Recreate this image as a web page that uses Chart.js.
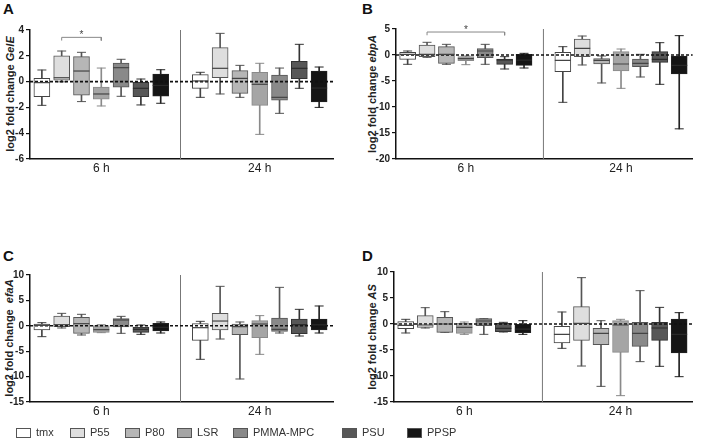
<!DOCTYPE html>
<html>
<head>
<meta charset="utf-8">
<script src="https://cdn.jsdelivr.net/npm/chart.js@4.4.0/dist/chart.umd.min.js"></script>
<style>
  body { margin: 0; background: #fff; width: 702px; height: 448px; position: relative; overflow: hidden;
         font-family: "Liberation Sans", Arial, sans-serif; }
  canvas { position: absolute; }
  .letter { position: absolute; font-weight: bold; font-size: 15px; line-height: 1; color: #111; }
  .ytitle { position: absolute; font-weight: bold; font-size: 11px; line-height: 1; color: #222; white-space: pre;
            transform: translate(-50%, -50%) rotate(-90deg); }
  .leg { position: absolute; top: 427px; font-size: 11px; color: #333; display: flex; align-items: center; line-height: 1; }
  .leg .sw { display: inline-block; width: 15px; height: 10px; border: 1px solid #555; box-sizing: border-box; margin-right: 5px; }
</style>
</head>
<body>
<div class="letter" style="left:3px;top:1px">A</div>
<div class="letter" style="left:362px;top:1px">B</div>
<div class="letter" style="left:3px;top:248px">C</div>
<div class="letter" style="left:362px;top:248px">D</div>

<div class="ytitle" style="left:10px;top:94px">log2 fold change <i>GelE</i></div>
<div class="ytitle" style="left:372px;top:94px">log2 fold change <i>ebpA</i></div>
<div class="ytitle" style="left:9px;top:338px">log2 fold change  <i>efaA</i></div>
<div class="ytitle" style="left:372px;top:337px">log2 fold change <i>AS</i></div>

<canvas id="chartA" width="345" height="169" style="left:0px;top:20px"></canvas>
<canvas id="chartB" width="336" height="170" style="left:366px;top:19px"></canvas>
<canvas id="chartC" width="345" height="167" style="left:0px;top:265px"></canvas>
<canvas id="chartD" width="338" height="170" style="left:364px;top:262px"></canvas>

<div id="legend"></div>

<script>
// groups and labels
const materials = ['tmx', 'P55', 'P80', 'LSR', 'PMMA-MPC', 'PSU', 'PPSP'];
const timeLabels = ['6 h', '24 h'];

// box plot values, 6 h (7 materials) then 24 h (7 materials)
// A - GelE
const gelE_max = [0.9, 2.37, 2.27, 1.05, 1.73, 0.2, 0.92, 0.72, 3.74, 1.26, 1.42, 1.05, 2.89, 1.13];
const gelE_q3  = [0.25, 2.0, 1.93, -0.42, 1.44, 0.0, 0.59, 0.54, 2.63, 0.85, 0.72, 0.51, 1.57, 0.82];
const gelE_med = [-0.08, 0.3, 0.82, -0.96, 1.08, -0.52, -0.3, 0.05, 1.03, 0.25, -0.21, -1.22, 1.03, -0.5];
const gelE_q1  = [-1.17, 0.12, -1.06, -1.37, -0.44, -1.17, -1.12, -0.52, 0.3, -0.91, -1.84, -1.43, 0.23, -1.58];
const gelE_min = [-1.84, -0.02, -1.55, -1.89, -1.14, -1.81, -1.68, -1.22, -0.96, -1.22, -4.09, -2.46, -0.52, -2.0];

// B - ebpA
const ebpA_max = [0.77, 2.44, 2.05, -0.19, 2.05, -0.32, 0.32, 1.6, 3.65, -0.19, 1.15, 0.13, 2.37, 3.72];
const ebpA_q3  = [0.51, 1.92, 1.6, -0.32, 1.22, -0.77, 0.13, 0.51, 3.08, -0.7, 0.64, -0.77, 0.64, -0.19];
const ebpA_med = [0.13, 0.13, 0.13, -0.7, 0.77, -0.96, -1.0, -1.03, 1.28, -1.03, -1.73, -1.6, -0.83, -2.0];
const ebpA_q1  = [-0.83, -0.32, -1.6, -1.09, -0.51, -1.79, -1.99, -3.2, -0.32, -1.73, -3.08, -2.24, -1.41, -3.65];
const ebpA_min = [-1.79, -0.45, -1.79, -1.86, -1.79, -2.69, -2.5, -9.1, -1.92, -5.38, -6.41, -4.23, -5.64, -14.2];

// C - efaA
const efaA_max = [0.62, 2.45, 2.26, 0.22, 1.86, 0.16, 0.75, 0.88, 7.77, 0.75, 2.0, 7.57, 3.24, 3.9];
const efaA_q3  = [0.35, 1.93, 1.67, 0.03, 1.4, -0.24, 0.49, 0.42, 2.45, 0.35, 1.01, 1.54, 1.34, 1.34];
const efaA_med = [0.09, 0.22, 0.42, -0.76, 1.14, -0.7, -0.3, -0.37, 0.94, -0.17, 0.35, -0.7, 0.22, 0.2];
const efaA_q1  = [-0.83, -0.17, -1.48, -1.29, -0.24, -1.29, -1.02, -2.86, -0.83, -1.75, -2.34, -1.09, -1.55, -0.83];
const efaA_min = [-2.14, -0.43, -1.81, -1.35, -1.48, -1.68, -1.42, -6.6, -2.6, -10.47, -5.62, -1.42, -2.01, -1.42];

// D - AS
const as_max = [0.9, 3.14, 2.37, 0.38, 1.03, 0.32, 0.64, 2.31, 8.91, 0.64, 0.9, 6.41, 3.2, 2.18];
const as_q3  = [0.45, 1.6, 1.28, 0.13, 1.03, 0.13, -0.06, -0.45, 3.33, -0.83, 0.64, 0.32, 0.32, 0.96];
const as_med = [-0.26, -0.19, 0, -0.64, 0.58, -0.83, -1.0, -1.99, 0.13, -1.8, -0.19, -1.8, -0.77, -2.0];
const as_q1  = [-0.9, -0.64, -1.6, -1.8, -0.32, -1.47, -1.67, -3.65, -3.14, -3.97, -5.45, -4.3, -3.14, -5.58];
const as_min = [-1.73, -0.77, -1.6, -1.99, -1.99, -1.53, -1.99, -4.68, -8.08, -11.99, -13.78, -7.24, -8.14, -10.13];

// significance brackets: [from box, to box, height]
const sigA = [1, 3, 3.43];
const sigB = [1, 5, 4.42];

const fillColors = ['#ffffff', '#dedede', '#b6b6b6', '#a5a5a5', '#898989', '#575757', '#151515'];
const lineColors = ['#444444', '#555555', '#555555', '#8a8a8a', '#555555', '#333333', '#222222'];

// box positions: one slot per material, one empty slot between time points
const boxX = [];
timeLabels.forEach((t, ti) => materials.forEach((m, mi) => boxX.push(ti * (materials.length + 1) + mi)));
const groupCenters = timeLabels.map((t, ti) => {
    const xs = boxX.slice(ti * materials.length, (ti + 1) * materials.length);
    return xs.reduce((a, b) => a + b, 0) / xs.length;
});
const dividerX = materials.length;
const xMin = -0.6, xMax = 14.7;

const font = '"Liberation Sans", Arial, sans-serif';

function makePanel(id, b, yMin, yMax, step, sig, padRight) {
    const colFill = boxX.map((x, i) => fillColors[i % 7]);
    const colLine = boxX.map((x, i) => lineColors[i % 7]);
    const capData = [], capColors = [];
    boxX.forEach((x, i) => {
        capData.push({x: x, y: b.max[i]}, {x: x, y: b.min[i]});
        capColors.push(colLine[i], colLine[i]);
    });

    const datasets = [
        {
            type: 'bar',
            data: boxX.map((x, i) => ({x: x, y: [b.q1[i], b.q3[i]]})),
            backgroundColor: colFill,
            borderColor: colLine,
            borderWidth: 1,
            borderSkipped: false,
            barThickness: 16,
            grouped: false,
            order: 2
        },
        {
            type: 'bar',
            data: boxX.map((x, i) => ({x: x, y: [b.min[i], b.max[i]]})),
            backgroundColor: colLine,
            borderWidth: 0,
            barThickness: 1,
            grouped: false,
            order: 3
        },
        {
            type: 'line',
            data: capData,
            showLine: false,
            pointStyle: 'line',
            pointRadius: 4.5,
            pointBorderWidth: 1,
            pointBorderColor: capColors,
            order: 3
        },
        {
            type: 'line',
            data: boxX.map((x, i) => ({x: x, y: b.med[i]})),
            showLine: false,
            pointStyle: 'line',
            pointRadius: 8,
            pointBorderWidth: 1.2,
            pointBorderColor: boxX.map((x, i) => i % 7 >= 5 ? '#2a2a2a' : '#444444'),
            order: 0
        },
        {
            type: 'line',
            data: [{x: xMin, y: 0}, {x: xMax, y: 0}],
            borderColor: '#111',
            borderWidth: 1.6,
            borderDash: [3, 2],
            pointRadius: 0,
            order: 0
        },
        {
            type: 'line',
            data: [{x: dividerX, y: yMin}, {x: dividerX, y: yMax}],
            borderColor: '#777',
            borderWidth: 1,
            pointRadius: 0,
            order: 4
        }
    ];

    if (sig) {
        const drop = (yMax - yMin) * 0.025;
        datasets.push({
            type: 'line',
            data: [{x: sig[0], y: sig[2] - drop}, {x: sig[0], y: sig[2]}, {x: sig[1], y: sig[2]}, {x: sig[1], y: sig[2] - drop}],
            borderColor: '#888',
            borderWidth: 1,
            pointRadius: 0,
            order: 0
        });
    }

    const starPlugin = {
        id: 'star',
        afterDatasetsDraw(chart) {
            if (!sig) return;
            const c = chart.ctx;
            c.save();
            c.fillStyle = '#444';
            c.font = '10px ' + font;
            c.textAlign = 'center';
            c.textBaseline = 'bottom';
            c.fillText('*', chart.scales.x.getPixelForValue((sig[0] + sig[1]) / 2), chart.scales.y.getPixelForValue(sig[2]) + 3);
            c.restore();
        }
    };

    return new Chart(document.getElementById(id), {
        type: 'bar',
        data: {datasets: datasets},
        plugins: [starPlugin],
        options: {
            responsive: false,
            animation: false,
            events: [],
            layout: {padding: {top: 10, right: padRight, left: 0, bottom: 0}},
            plugins: {
                legend: {display: false},
                tooltip: {enabled: false}
            },
            scales: {
                x: {
                    type: 'linear',
                    min: xMin,
                    max: xMax,
                    offset: false,
                    grid: {display: false, drawTicks: false},
                    border: {display: true, color: '#111', width: 1.5},
                    ticks: {
                        autoSkip: false,
                        maxRotation: 0,
                        padding: 2,
                        color: '#222',
                        font: {family: font, size: 12},
                        callback: v => {
                            const k = groupCenters.indexOf(v);
                            return k >= 0 ? timeLabels[k] : '';
                        }
                    },
                    afterBuildTicks: s => { s.ticks = groupCenters.map(v => ({value: v})); },
                    afterFit: s => { s.height = 30; }
                },
                y: {
                    min: yMin,
                    max: yMax,
                    grid: {display: true, drawOnChartArea: false, drawTicks: true, tickLength: 4, color: '#111', lineWidth: 1.2},
                    border: {display: true, color: '#111', width: 1.5},
                    ticks: {
                        stepSize: step,
                        padding: 2,
                        color: '#222',
                        font: {family: font, size: 10, weight: 'bold'}
                    },
                    afterFit: s => { s.width = 30; }
                }
            }
        }
    });
}

makePanel('chartA', {max: gelE_max, q3: gelE_q3, med: gelE_med, q1: gelE_q1, min: gelE_min}, -6, 4, 2, sigA, 12);
makePanel('chartB', {max: ebpA_max, q3: ebpA_q3, med: ebpA_med, q1: ebpA_q1, min: ebpA_min}, -20, 5, 5, sigB, 2);
makePanel('chartC', {max: efaA_max, q3: efaA_q3, med: efaA_med, q1: efaA_q1, min: efaA_min}, -15, 10, 5, null, 12);
makePanel('chartD', {max: as_max, q3: as_q3, med: as_med, q1: as_q1, min: as_min}, -15, 10, 5, null, 2);

// legend
const legendLeft = [16, 70, 125, 177, 233, 342, 407];
const legend = document.getElementById('legend');
materials.forEach((m, i) => {
    const item = document.createElement('div');
    item.className = 'leg';
    item.style.left = legendLeft[i] + 'px';
    const sw = document.createElement('span');
    sw.className = 'sw';
    sw.style.background = fillColors[i];
    const tx = document.createElement('span');
    tx.textContent = m;
    item.appendChild(sw);
    item.appendChild(tx);
    legend.appendChild(item);
});
</script>
</body>
</html>
